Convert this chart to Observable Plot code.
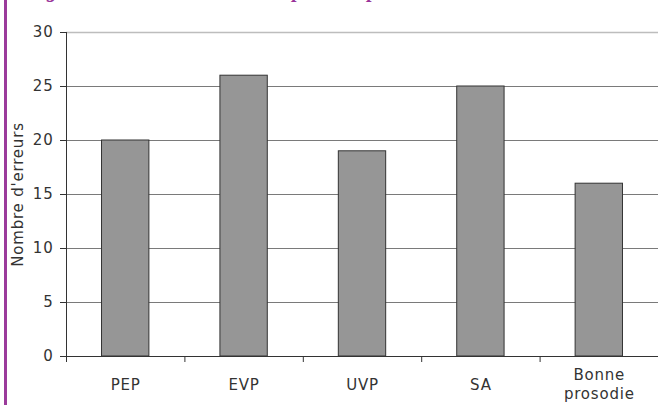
<!DOCTYPE html>
<html>
<head>
<meta charset="utf-8">
<script src="https://cdn.jsdelivr.net/npm/d3@7"></script>
<script src="https://cdn.jsdelivr.net/npm/@observablehq/plot@0.6"></script>
<style>
  html, body { margin: 0; padding: 0; background: #fff; }
  #fig { position: relative; width: 658px; height: 412px; overflow: hidden; background: #fff; }
  #bar-left { position: absolute; left: 4px; top: 0; width: 3px; height: 405px; background: #9b3b9b; }
  #title {
    position: absolute; left: 28px; top: -20px; white-space: nowrap;
    font: italic bold 20px/1 "Liberation Serif", serif; color: #993399;
  }
  #chart { position: absolute; left: 0; top: 0; }
  #chart svg text { letter-spacing: 0.8px; }
</style>
</head>
<body>
<div id="fig">
  <div id="chart"></div>
  <div id="bar-left"></div>
  <div id="title">Figure 3 : Nombre d'erreurs de prosodie par élève</div>
</div>
<script>
// Error counts per prosody category
const categories = ["PEP", "EVP", "UVP", "SA", "Bonne\nprosodie"];
const errors = [20, 26, 19, 25, 16];
const yTicks = [0, 5, 10, 15, 20, 25, 30];

const data = categories.map((c, i) => ({category: c, index: i, value: errors[i]}));
const bounds = d3.range(categories.length + 1);

const chart = Plot.plot({
  width: 658,
  height: 412,
  marginLeft: 66,
  marginRight: 0,
  marginTop: 32,
  marginBottom: 56,
  style: {fontFamily: "DejaVu Sans, Verdana, sans-serif", fontSize: "15px", color: "#333", background: "white"},
  x: {domain: [0, categories.length]},
  y: {domain: [0, 30]},
  marks: [
    Plot.gridY(yTicks.filter(t => t > 0 && t < 30), {stroke: "#7a7a7a", strokeOpacity: 1}),
    Plot.ruleY([30], {stroke: "#bdbdbd", strokeWidth: 1.5}),
    Plot.rectY(data, {
      x1: d => d.index + 0.3,
      x2: d => d.index + 0.7,
      y: "value",
      fill: "#969696",
      stroke: "#333",
      strokeWidth: 1
    }),
    Plot.ruleY([0], {stroke: "#333"}),
    Plot.axisY(yTicks, {
      tickSize: 6, tickPadding: 7, stroke: "#333",
      label: "Nombre d'erreurs", labelAnchor: "center", labelOffset: 54, labelArrow: "none"
    }),
    Plot.ruleX([0], {stroke: "#333"}),
    Plot.axisX(bounds, {tickSize: 6, tickFormat: () => "", stroke: "#333", label: null}),
    // category names, centred vertically under each bar
    Plot.text(data, {
      x: d => d.index + 0.5,
      y: 0,
      dy: 27,
      text: "category",
      lineAnchor: "middle",
      lineHeight: 1.3,
      fill: "#333"
    })
  ]
});
document.getElementById("chart").appendChild(chart);
</script>
</body>
</html>
